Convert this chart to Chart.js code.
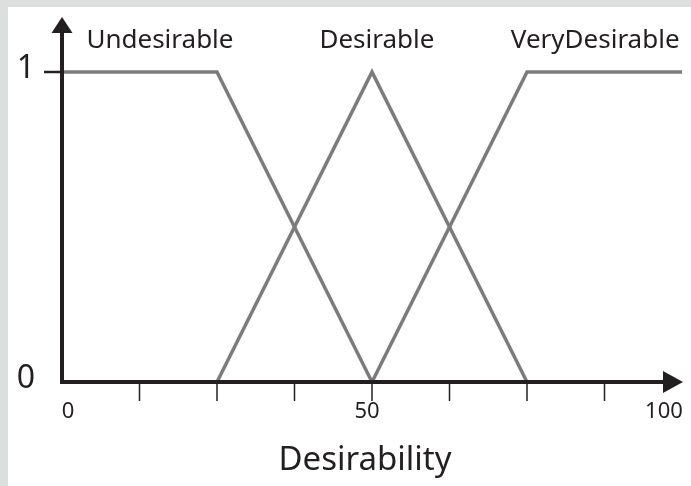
<!DOCTYPE html>
<html>
<head>
<meta charset="utf-8">
<script src="https://cdn.jsdelivr.net/npm/chart.js@4"></script>
<style>
  html, body { margin: 0; padding: 0; background: #dddfde; }
  #wrap { position: absolute; left: 8px; top: 7px; width: 683px; height: 479px; background: #fff; }
  canvas { display: block; }
</style>
</head>
<body>
<div id="wrap"><canvas id="c" width="683" height="479"></canvas></div>
<script>
// membership functions (x = desirability, y = membership)
const setNames = ['Undesirable', 'Desirable', 'VeryDesirable'];
const undesirableX = [0, 25, 50];
const undesirableY = [1, 1, 0];
const desirableX = [25, 50, 75];
const desirableY = [0, 1, 0];
const veryDesirableX = [50, 75, 100];
const veryDesirableY = [0, 1, 1];
const labelAt = [15.8, 50.8, 86];            // where each set name sits (x units)
const xMinorTicks = [12.5, 25, 37.5, 50, 62.5, 75, 87.5];
const xTickLabels = [0, 50, 100];
const yTickLabels = [0, 1];
const xTitle = 'Desirability';

const AXIS = '#231f20';
const LINE = '#7b7b7b';
const FONT = "'Noto Sans', sans-serif";

const pts = (xs, ys) => xs.map((x, i) => ({ x, y: ys[i] }));

// 手描きの軸・矢印・目盛り
const axesPlugin = {
  id: 'axes',
  afterDatasetsDraw(chart) {
    const { ctx, scales: { x, y } } = chart;
    const x0 = x.getPixelForValue(0), x1 = x.getPixelForValue(100);
    const y0 = y.getPixelForValue(0), y1 = y.getPixelForValue(1);
    ctx.save();
    ctx.strokeStyle = AXIS;
    ctx.fillStyle = AXIS;
    ctx.lineCap = 'butt';

    // minor ticks
    ctx.lineWidth = 1.5;
    xMinorTicks.forEach(v => {
      const px = x.getPixelForValue(v);
      ctx.beginPath(); ctx.moveTo(px, y0); ctx.lineTo(px, y0 + 19); ctx.stroke();
    });
    // y tick at 1
    ctx.lineWidth = 2.5;
    ctx.beginPath(); ctx.moveTo(x0 - 18, y1); ctx.lineTo(x0, y1); ctx.stroke();

    // axes
    ctx.lineWidth = 4;
    ctx.beginPath();
    ctx.moveTo(x0, 22);
    ctx.lineTo(x0, y0);
    ctx.lineTo(x1 - 14, y0);
    ctx.stroke();
    // arrows
    ctx.beginPath();
    ctx.moveTo(x0, 10); ctx.lineTo(x0 - 10.5, 26); ctx.lineTo(x0 + 10.5, 26); ctx.closePath();
    ctx.fill();
    ctx.beginPath();
    ctx.moveTo(x1 + 1, y0); ctx.lineTo(x1 - 19, y0 - 11); ctx.lineTo(x1 - 19, y0 + 11); ctx.closePath();
    ctx.fill();

    // tick labels
    ctx.textBaseline = 'middle';
    ctx.textAlign = 'center';
    ctx.fillStyle = '#231f20';
    ctx.font = `22px ${FONT}`;
    const labelShift = { 0: 6, 50: -5, 100: -18 };
    xTickLabels.forEach(v => {
      const px = x.getPixelForValue(v) + (labelShift[v] || 0);
      ctx.fillText(String(v), px, y0 + 30);
    });
    ctx.font = `32px ${FONT}`;
    yTickLabels.forEach(v => {
      ctx.fillText(String(v), 18, y.getPixelForValue(v) - 3);
    });

    // set names
    ctx.font = `26px ${FONT}`;
    setNames.forEach((n, i) => {
      ctx.fillText(n, x.getPixelForValue(labelAt[i]), 34);
    });

    // axis title
    ctx.font = `33px ${FONT}`;
    ctx.fillText(xTitle, x.getPixelForValue(50) - 7, 454);
    ctx.restore();
  },
};

const ds = (label, data) => ({
  label,
  data,
  borderColor: LINE,
  borderWidth: 3.5,
  pointRadius: 0,
  tension: 0,
  fill: false,
  clip: false,
});

new Chart(document.getElementById('c'), {
  type: 'line',
  data: {
    datasets: [
      ds(setNames[0], pts(undesirableX, undesirableY)),
      ds(setNames[1], pts(desirableX, desirableY)),
      ds(setNames[2], pts(veryDesirableX, veryDesirableY)),
    ],
  },
  options: {
    responsive: false,
    animation: false,
    layout: { padding: { left: 54, right: 9, top: 65, bottom: 104 } },
    plugins: { legend: { display: false }, tooltip: { enabled: false } },
    scales: {
      x: { type: 'linear', min: 0, max: 100, display: false },
      y: { type: 'linear', min: 0, max: 1, display: false },
    },
  },
  plugins: [axesPlugin],
});
</script>
</body>
</html>
